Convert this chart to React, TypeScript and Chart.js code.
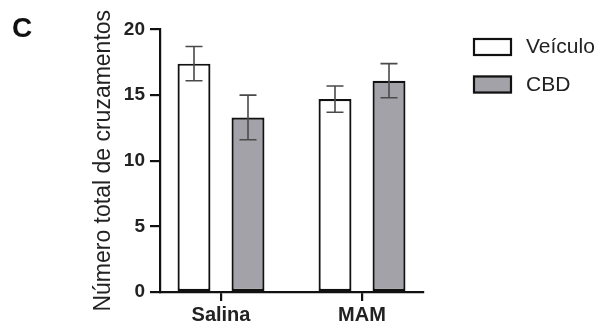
import React, { useEffect, useRef } from "react";
import { Chart, registerables } from "chart.js";

Chart.register(...registerables);

const categories = ["Salina", "MAM"];
const veiculoMean = [17.4, 14.7];
const veiculoErr = [1.3, 1.0];
const cbdMean = [13.3, 16.1];
const cbdErr = [1.7, 1.3];
const yTicks = [0, 5, 10, 15, 20];
const seriesLabels = ["Veículo", "CBD"];
const yTitle = "Número total de cruzamentos";
const panelLetter = "C";

const FONT = "'Liberation Sans', Arial, sans-serif";

const errorBarPlugin = {
  id: "errorBars",
  afterDatasetsDraw(chart: any) {
    const { ctx } = chart;
    const yScale = chart.scales.y;
    chart.data.datasets.forEach((ds: any, di: number) => {
      const meta = chart.getDatasetMeta(di);
      meta.data.forEach((el: any, i: number) => {
        const v = ds.data[i].y;
        const e = ds.errors[i];
        const top = yScale.getPixelForValue(v + e);
        const bot = yScale.getPixelForValue(v - e);
        const half = 8.5;
        ctx.save();
        ctx.strokeStyle = "#4a4a4a";
        ctx.lineWidth = 1.6;
        ctx.beginPath();
        ctx.moveTo(el.x, top);
        ctx.lineTo(el.x, bot);
        ctx.moveTo(el.x - half, top);
        ctx.lineTo(el.x + half, top);
        ctx.moveTo(el.x - half, bot);
        ctx.lineTo(el.x + half, bot);
        ctx.stroke();
        ctx.restore();
      });
    });
  },
};

const legendPlugin = {
  id: "customLegend",
  afterDraw(chart: any) {
    const { ctx } = chart;
    const x0 = 473;
    const y0 = 38;
    const step = 37.5;
    chart.data.datasets.forEach((ds: any, i: number) => {
      const y = y0 + i * step;
      ctx.save();
      ctx.fillStyle = ds.backgroundColor;
      ctx.fillRect(x0, y, 39, 18);
      ctx.strokeStyle = "#111";
      ctx.lineWidth = 2.2;
      ctx.strokeRect(x0 + 1, y + 1, 37, 16);
      ctx.fillStyle = "#222";
      ctx.font = `21px ${FONT}`;
      ctx.textBaseline = "middle";
      ctx.textAlign = "left";
      ctx.fillText(ds.label, 526, y + 9.5);
      ctx.restore();
    });
    ctx.save();
    ctx.fillStyle = "#111";
    ctx.font = `bold 28px ${FONT}`;
    ctx.textBaseline = "alphabetic";
    ctx.fillText(panelLetter, 12, 37);
    ctx.restore();
  },
};

export default function App() {
  const ref = useRef<HTMLCanvasElement | null>(null);
  useEffect(() => {
    document.body.style.margin = "0";
    const canvas = ref.current;
    if (!canvas) return;
    const chart = new Chart(canvas, {
      type: "bar",
      data: {
        datasets: [
          {
            label: seriesLabels[0],
            data: categories.map((_, i) => ({ x: i, y: veiculoMean[i] })),
            errors: veiculoErr,
            backgroundColor: "#ffffff",
            borderColor: "#111111",
            borderWidth: 2.2,
            borderSkipped: false,
          } as any,
          {
            label: seriesLabels[1],
            data: categories.map((_, i) => ({ x: i, y: cbdMean[i] })),
            errors: cbdErr,
            backgroundColor: "#a3a2a8",
            borderColor: "#111111",
            borderWidth: 2.2,
            borderSkipped: false,
          } as any,
        ],
      },
      options: {
        responsive: false,
        animation: false,
        devicePixelRatio: 1,
        layout: { padding: { top: 29.5, right: 174, left: 0, bottom: 0 } },
        datasets: { bar: { categoryPercentage: 0.766, barPercentage: 0.61 } },
        plugins: { legend: { display: false }, tooltip: { enabled: false } },
        scales: {
          x: {
            type: "linear",
            offset: false,
            min: -0.4326,
            max: 1.4326,
            afterBuildTicks: (scale: any) => {
              scale.ticks = categories.map((_, i) => ({ value: i }));
            },
            afterFit: (scale: any) => {
              scale.height = 40;
            },
            grid: {
              display: true,
              offset: false,
              drawOnChartArea: false,
              drawTicks: true,
              tickLength: 9,
              color: "#111",
              lineWidth: 2.2,
            },
            border: { display: true, color: "#111", width: 2.2 },
            ticks: {
              callback: (v: any) => categories[v] ?? "",
              font: { family: FONT, size: 20, weight: "bold" },
              color: "#222",
              padding: 2,
              maxRotation: 0,
              autoSkip: false,
            },
          },
          y: {
            min: 0,
            max: 20,
            afterBuildTicks: (scale: any) => {
              scale.ticks = yTicks.map((v) => ({ value: v }));
            },
            afterFit: (scale: any) => {
              scale.width = 160;
            },
            grid: {
              display: true,
              drawOnChartArea: false,
              drawTicks: true,
              tickLength: 10,
              color: "#111",
              lineWidth: 2.2,
            },
            border: { display: true, color: "#111", width: 2.2 },
            ticks: {
              font: { family: FONT, size: 19, weight: "bold" },
              color: "#222",
              padding: 5,
            },
            title: {
              display: true,
              text: yTitle,
              font: { family: FONT, size: 23 },
              color: "#222",
              padding: { top: 90, bottom: 0 },
            },
          },
        },
      },
      plugins: [errorBarPlugin, legendPlugin],
    });
    return () => chart.destroy();
  }, []);
  return (
    <div style={{ width: 597, height: 332, background: "#fff" }}>
      <canvas ref={ref} width={597} height={332} />
    </div>
  );
}
